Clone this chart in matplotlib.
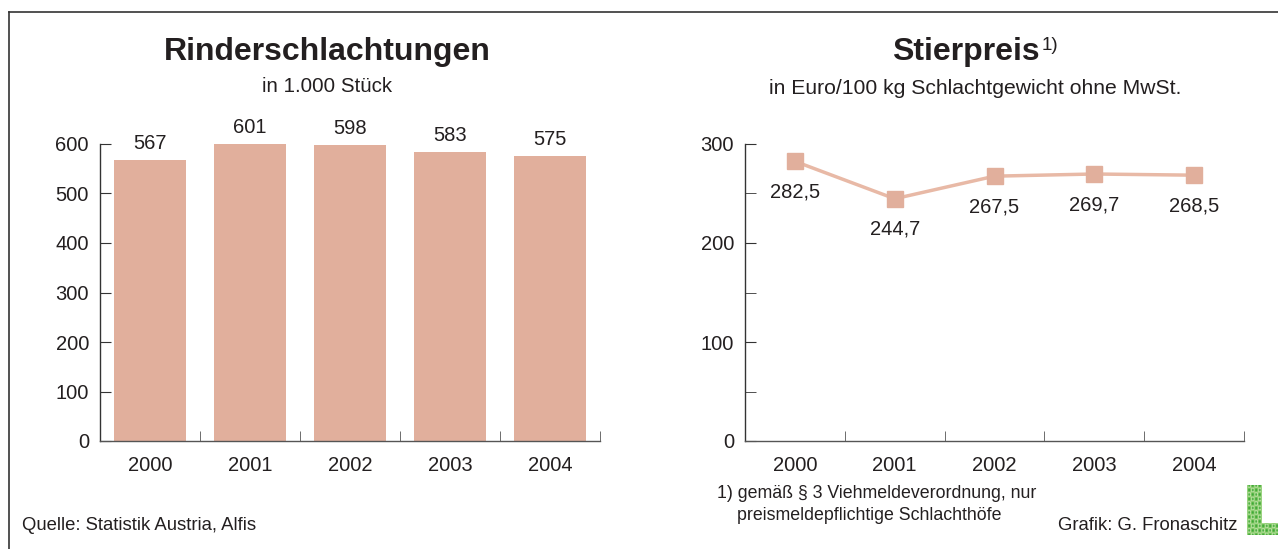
import numpy as np
import matplotlib.pyplot as plt
from matplotlib.lines import Line2D
from matplotlib.colors import LinearSegmentedColormap

# ---------------- Data ----------------
years = ["2000", "2001", "2002", "2003", "2004"]
schlachtungen = [567, 601, 598, 583, 575]      # in 1.000 Stück
stierpreis = [282.5, 244.7, 267.5, 269.7, 268.5]  # Euro/100 kg

# ---------------- Style ----------------
W, H = 1278, 549
bar_color = "#e1af9c"
line_color = "#e8b9a6"
text_color = "#231f20"
axis_color = "#333333"
plt.rcParams['font.family'] = ['Liberation Sans', 'DejaVu Sans']
plt.rcParams['text.color'] = text_color


def fx(px):
    return px / W


def fy(py):
    return 1 - py / H


fig = plt.figure(figsize=(W / 100, H / 100), dpi=100)

# frame lines (top and left)
fig.add_artist(Line2D([fx(9), 1], [fy(12), fy(12)], color=axis_color, lw=1.2))
fig.add_artist(Line2D([fx(9), fx(9)], [fy(12), 0], color=axis_color, lw=1.2))


def style_axes(ax, ymax, ystep, minor_y=None):
    x = np.arange(len(years))
    ax.set_xlim(-0.5, len(years) - 0.5)
    ax.set_ylim(0, ymax)
    for s in ["top", "right"]:
        ax.spines[s].set_visible(False)
    ax.spines["left"].set_color(axis_color)
    ax.spines["bottom"].set_color("#555555")
    ax.spines["left"].set_linewidth(1.0)
    ax.spines["bottom"].set_linewidth(1.0)
    ax.set_xticks(x)
    ax.set_xticklabels(years, fontsize=14.5)
    ax.set_xticks(np.arange(len(years)) + 0.5, minor=True)
    ax.tick_params(axis="x", which="major", length=0, pad=11, labelcolor=text_color)
    ax.tick_params(axis="x", which="minor", direction="in", length=7, color="#555555")
    ax.set_yticks(np.arange(0, ymax + 1, ystep))
    ax.tick_params(axis="y", which="major", direction="in", length=8, pad=8,
                   labelsize=14.5, color=axis_color, labelcolor=text_color)
    if minor_y is not None:
        ax.set_yticks(minor_y, minor=True)
        ax.tick_params(axis="y", which="minor", direction="in", length=8, color=axis_color)
    ax.patch.set_alpha(0)


# ---------------- Left: Rinderschlachtungen ----------------
ax1 = fig.add_axes([fx(100), fy(441), (600 - 100) / W, (441 - 144) / H])
style_axes(ax1, 600, 100)
bars = ax1.bar(np.arange(len(years)), schlachtungen, width=0.72, color=bar_color)
for i, v in enumerate(schlachtungen):
    ax1.annotate(str(v), (i, v), xytext=(0, 5), textcoords="offset points",
                 ha="center", va="bottom", fontsize=14.5)

fig.text(fx(327), fy(52), "Rinderschlachtungen", fontsize=23, fontweight="bold",
         ha="center", va="center")
fig.text(fx(327), fy(86), "in 1.000 Stück", fontsize=14.8, ha="center", va="center")

# ---------------- Right: Stierpreis ----------------
ax2 = fig.add_axes([fx(745), fy(441), (1244 - 745) / W, (441 - 144) / H])
style_axes(ax2, 300, 100, minor_y=[50, 150, 250])
ax2.plot(np.arange(len(years)), stierpreis, color=line_color, lw=2.5, zorder=2)
ax2.plot(np.arange(len(years)), stierpreis, ls="none", marker="s", markersize=11.5,
         color=bar_color, zorder=3)
for i, v in enumerate(stierpreis):
    ax2.annotate(f"{v:.1f}".replace(".", ","), (i, v), xytext=(0, -22),
                 textcoords="offset points", ha="center", va="center", fontsize=14.5)

fig.text(fx(1040), fy(52), "Stierpreis", fontsize=23, fontweight="bold",
         ha="right", va="center")
fig.text(fx(1042), fy(46), "1)", fontsize=13.5, ha="left", va="center")
fig.text(fx(975), fy(88), "in Euro/100 kg Schlachtgewicht ohne MwSt.", fontsize=15.2,
         ha="center", va="center")

# ---------------- Notes ----------------
fig.text(fx(22), fy(526), "Quelle: Statistik Austria, Alfis", fontsize=13.3,
         ha="left", va="center")
fig.text(fx(717), fy(494), "1) gemäß § 3 Viehmeldeverordnung, nur", fontsize=12.8,
         ha="left", va="center")
fig.text(fx(737), fy(515), "preismeldepflichtige Schlachthöfe", fontsize=12.8,
         ha="left", va="center")
fig.text(fx(1237), fy(525), "Grafik: G. Fronaschitz", fontsize=13.3,
         ha="right", va="center")

# small green "L" logo
green = LinearSegmentedColormap.from_list("logo", ["#3ea83a", "#7cc65e", "#b9e0a2", "#4fb143"])
gy, gx = np.mgrid[0:50, 0:31]
shade = (np.sin(gx * 0.9) * np.cos(gy * 0.7) + 1) / 2
mask = (gx < 15) | (gy >= 38)
logo = np.ma.masked_where(~mask, shade)
lax = fig.add_axes([fx(1247), fy(535), 31 / W, 50 / H])
lax.imshow(logo, cmap=green, aspect="auto", interpolation="bilinear")
lax.axis("off")

fig.savefig("out.png", dpi=100)
